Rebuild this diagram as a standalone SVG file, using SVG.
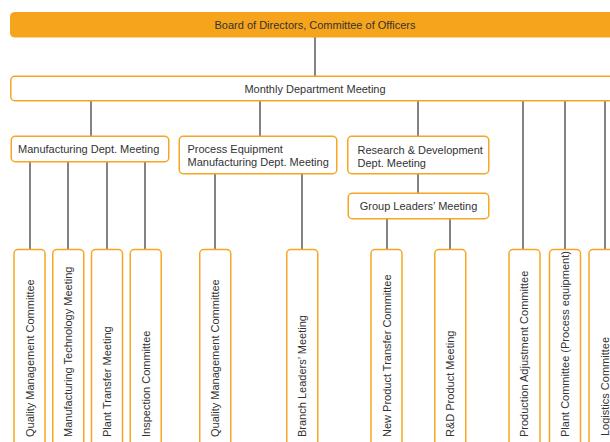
<svg xmlns="http://www.w3.org/2000/svg" width="610" height="442" viewBox="0 0 610 442">
<style>
.box{fill:#fff;stroke:#F6A623;stroke-width:1.5}
.top{fill:#F6A41C;stroke:#F6A41C;stroke-width:1}
.t{font-family:"Liberation Sans",Arial,sans-serif;font-size:11px;fill:#333}
.c{text-anchor:middle}
.ln{stroke:#333;stroke-width:1.2;fill:none}
</style>
<rect width="610" height="442" fill="#fff"/>
<g id="connectors">
<path class="ln" d="M315 37V76M91 101V136M260 101V136M418 101V136M523 101V249M565 101V249M605 101V249M30 162V249M68 162V249M107 162V249M145 162V249M215 174V249M302 174V249M418 174V193M387 219V249M450 219V249"/>
</g>
<g id="board"><rect class="top" x="10.5" y="12.5" width="612" height="24.5" rx="4"/><text class="t c" x="315" y="28.5">Board of Directors, Committee of Officers</text></g>
<g id="monthly"><rect class="box" x="10.75" y="76.25" width="612" height="24.5" rx="4"/><text class="t c" x="315" y="93">Monthly Department Meeting</text></g>
<g id="mfg"><rect class="box" x="11.25" y="136.25" width="157.5" height="25.5" rx="4"/><text class="t" x="18" y="152.7">Manufacturing Dept. Meeting</text></g>
<g id="proc"><rect class="box" x="179.25" y="136.25" width="157.5" height="37.5" rx="4"/><text class="t" x="187.5" y="152.5">Process Equipment</text><text class="t" x="187.5" y="166">Manufacturing Dept. Meeting</text></g>
<g id="rd"><rect class="box" x="347.75" y="136.25" width="141" height="37.5" rx="4"/><text class="t" x="357.5" y="154">Research &amp; Development</text><text class="t" x="357.5" y="166.7">Dept. Meeting</text></g>
<g id="group"><rect class="box" x="348.25" y="193.25" width="140.5" height="25.5" rx="4"/><text class="t c" x="418.5" y="210">Group Leaders’ Meeting</text></g>
<g id="b1"><rect class="box" x="14" y="249.5" width="31" height="210" rx="4"/><text class="t" transform="translate(33.5,437) rotate(-90)">Quality Management Committee</text></g>
<g id="b2"><rect class="box" x="52.75" y="249.5" width="31" height="210" rx="4"/><text class="t" transform="translate(72.3,437) rotate(-90)">Manufacturing Technology Meeting</text></g>
<g id="b3"><rect class="box" x="91.5" y="249.5" width="31" height="210" rx="4"/><text class="t" transform="translate(111,437) rotate(-90)">Plant Transfer Meeting</text></g>
<g id="b4"><rect class="box" x="130.25" y="249.5" width="31" height="210" rx="4"/><text class="t" transform="translate(149.7,437) rotate(-90)">Inspection Committee</text></g>
<g id="b5"><rect class="box" x="199.75" y="249.5" width="31" height="210" rx="4"/><text class="t" transform="translate(219.3,437) rotate(-90)">Quality Management Committee</text></g>
<g id="b6"><rect class="box" x="286.75" y="249.5" width="31" height="210" rx="4"/><text class="t" transform="translate(306,437) rotate(-90)">Branch Leaders’ Meeting</text></g>
<g id="b7"><rect class="box" x="371" y="249.5" width="31" height="210" rx="4"/><text class="t" transform="translate(390.5,437) rotate(-90)">New Product Transfer Committee</text></g>
<g id="b8"><rect class="box" x="434.75" y="249.5" width="31" height="210" rx="4"/><text class="t" transform="translate(454,437) rotate(-90)">R&amp;D Product Meeting</text></g>
<g id="b9"><rect class="box" x="509" y="249.5" width="31" height="210" rx="4"/><text class="t" transform="translate(528,437) rotate(-90)">Production Adjustment Committee</text></g>
<g id="b10"><rect class="box" x="549.5" y="249.5" width="31" height="210" rx="4"/><text class="t" transform="translate(569,437) rotate(-90)">Plant Committee (Process equipment)</text></g>
<g id="b11"><rect class="box" x="589" y="249.5" width="31" height="210" rx="4"/><text class="t" transform="translate(608.5,436) rotate(-90)">Logistics Committee</text></g>
</svg>
